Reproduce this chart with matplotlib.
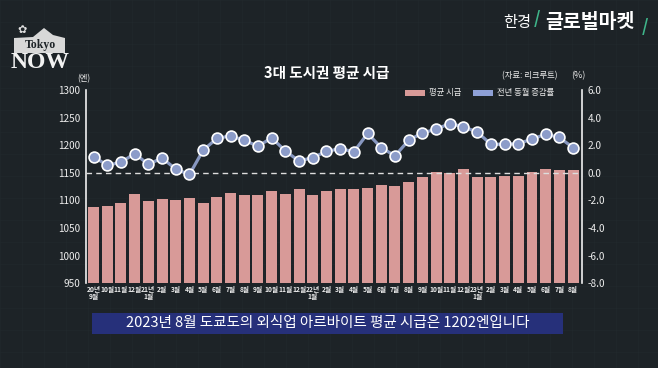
import matplotlib
matplotlib.use("Agg")
import matplotlib.pyplot as plt
from matplotlib.patches import Rectangle, Polygon
import numpy as np

plt.rcParams['font.family'] = ['Noto Sans CJK KR', 'DejaVu Sans']

months = ["20년\n9월", "10월", "11월", "12월", "21년\n1월", "2월", "3월", "4월", "5월", "6월", "7월", "8월",
          "9월", "10월", "11월", "12월", "22년\n1월", "2월", "3월", "4월", "5월", "6월", "7월", "8월",
          "9월", "10월", "11월", "12월", "23년\n1월", "2월", "3월", "4월", "5월", "6월", "7월", "8월"]
wage = [1089, 1090, 1095, 1111, 1099, 1103, 1101, 1104, 1095, 1107, 1114, 1109,
        1110, 1117, 1112, 1120, 1110, 1117, 1120, 1121, 1123, 1128, 1126, 1134,
        1142, 1151, 1150, 1157, 1143, 1143, 1144, 1144, 1151, 1157, 1155, 1155]
yoy = [1.16, 0.56, 0.75, 1.40, 0.61, 1.08, 0.27, -0.12, 1.64, 2.49, 2.68, 2.36,
       1.93, 2.53, 1.59, 0.85, 1.11, 1.55, 1.76, 1.52, 2.85, 1.83, 1.23, 2.36,
       2.89, 3.16, 3.57, 3.33, 2.96, 2.07, 2.07, 2.12, 2.44, 2.80, 2.56, 1.83]
left_ticks = [950, 1000, 1050, 1100, 1150, 1200, 1250, 1300]
right_ticks = [-8.0, -6.0, -4.0, -2.0, 0.0, 2.0, 4.0, 6.0]

BG = "#1d2327"
BAR = "#d89a98"
LINE = "#8797c0"
MFACE = "#8c9cc9"
TXT = "#ececec"

W, H = 658, 368
fig = plt.figure(figsize=(W / 100, H / 100), dpi=100)
fig.patch.set_facecolor(BG)

# faint chalkboard grid
bgax = fig.add_axes([0, 0, 1, 1])
bgax.set_xlim(0, W); bgax.set_ylim(H, 0); bgax.axis("off")
for gx in np.arange(0, W, 22):
    bgax.axvline(gx, color="#283034", lw=0.4, alpha=0.45, zorder=0)
for gy in np.arange(0, H, 22):
    bgax.axhline(gy, color="#283034", lw=0.4, alpha=0.45, zorder=0)

def fx(px):
    return px / W

def fy(py):
    return 1 - py / H

ax_l, ax_r, ax_t, ax_b = 86, 582, 90, 283.3
ax = fig.add_axes([fx(ax_l), fy(ax_b), (ax_r - ax_l) / W, (ax_b - ax_t) / H])
ax.set_facecolor("none")
x = np.arange(len(months))
ax.bar(x, wage, width=0.8, color=BAR, zorder=2)
ax.set_ylim(950, 1300)
ax.set_xlim(-0.55, 35.65)
ax.set_yticks(left_ticks)
ax.set_yticklabels([str(t) for t in left_ticks], color=TXT, fontsize=7.2)
ax.set_xticks(x)
ax.set_xticklabels(months, color=TXT, fontsize=4.8, fontweight="bold", linespacing=0.95)
ax.tick_params(axis="both", length=0, pad=2)
ax.tick_params(axis="y", pad=4)
for s in ["top", "bottom", "right"]:
    ax.spines[s].set_visible(False)
ax.spines["left"].set_color("#f0f0f0")
ax.spines["left"].set_linewidth(1.2)

ax2 = ax.twinx()
ax2.set_ylim(-8, 6)
ax2.axhline(0, color="#dddddd", lw=1.0, ls=(0, (4, 3)), zorder=3)
ax2.plot(x, yoy, color=LINE, lw=2.3, zorder=4)
ax2.plot(x, yoy, ls="none", marker="o", ms=7.8, mfc=MFACE, mec="white", mew=1.2, zorder=5)
ax2.set_yticks(right_ticks)
ax2.set_yticklabels([f"{t:.1f}" for t in right_ticks], color=TXT, fontsize=7.2)
ax2.tick_params(axis="y", length=0, pad=4)
for s in ["top", "bottom", "left"]:
    ax2.spines[s].set_visible(False)
ax2.spines["right"].set_color("#f0f0f0")
ax2.spines["right"].set_linewidth(1.2)

# units and title
fig.text(fx(84), fy(79), "(엔)", color=TXT, fontsize=6, ha="center", va="center")
fig.text(fx(578), fy(76), "(%)", color=TXT, fontsize=6.5, ha="center", va="center")
fig.text(fx(530), fy(76), "(자료: 리크루트)", color=TXT, fontsize=6, ha="center", va="center")
fig.text(fx(327), fy(73), "3대 도시권 평균 시급", color="white", fontsize=10.5, fontweight="black",
         ha="center", va="center")

# legend
fig.patches.append(Rectangle((fx(405), fy(96)), 20 / W, 6 / H, transform=fig.transFigure,
                             facecolor=BAR, edgecolor="none"))
fig.text(fx(429), fy(93), "평균 시급", color=TXT, fontsize=6, ha="left", va="center")
fig.patches.append(Rectangle((fx(473), fy(96)), 20 / W, 6 / H, transform=fig.transFigure,
                             facecolor="#8ea0d6", edgecolor="none"))
fig.text(fx(497), fy(93), "전년 동월 증감률", color=TXT, fontsize=6, ha="left", va="center")

# Tokyo NOW logo
fig.patches.append(Polygon([(fx(14), fy(53)), (fx(14), fy(38)), (fx(33), fy(37)), (fx(44), fy(28)),
                            (fx(53), fy(35)), (fx(65), fy(38)), (fx(65), fy(53))],
                           closed=True, transform=fig.transFigure, facecolor="#d8d8d8", edgecolor="none"))
fig.text(fx(40), fy(45), "Tokyo", color="#1d2327", fontsize=8.5, fontweight="bold",
         family="Liberation Serif", ha="center", va="center")
fig.text(fx(40), fy(62), "NOW", color="#f2f2f2", fontsize=17, fontweight="bold",
         family="Liberation Serif", ha="center", va="center")
fig.text(fx(22), fy(30), "✿", color="#e0e0e0", fontsize=8, family="DejaVu Sans",
         ha="center", va="center")

# brand top-right
fig.text(fx(503), fy(22), "한경", color="white", fontsize=11, ha="left", va="center")
fig.text(fx(537), fy(19), "/", color="#3fb58a", fontsize=12, fontweight="bold", ha="center", va="center")
fig.text(fx(545), fy(22), "글로벌마켓", color="white", fontsize=14, fontweight="black",
         ha="left", va="center")
fig.text(fx(645), fy(27), "/", color="#3fb58a", fontsize=12, fontweight="bold", ha="center", va="center")

# subtitle box
fig.patches.append(Rectangle((fx(92), fy(334)), (563 - 92) / W, 21 / H, transform=fig.transFigure,
                             facecolor="#26307a", edgecolor="none"))
fig.text(fx(327.5), fy(323.5), "2023년 8월 도쿄도의 외식업 아르바이트 평균 시급은 1202엔입니다",
         color="white", fontsize=10.5, ha="center", va="center")

fig.savefig("out.png", dpi=100, facecolor=BG)
